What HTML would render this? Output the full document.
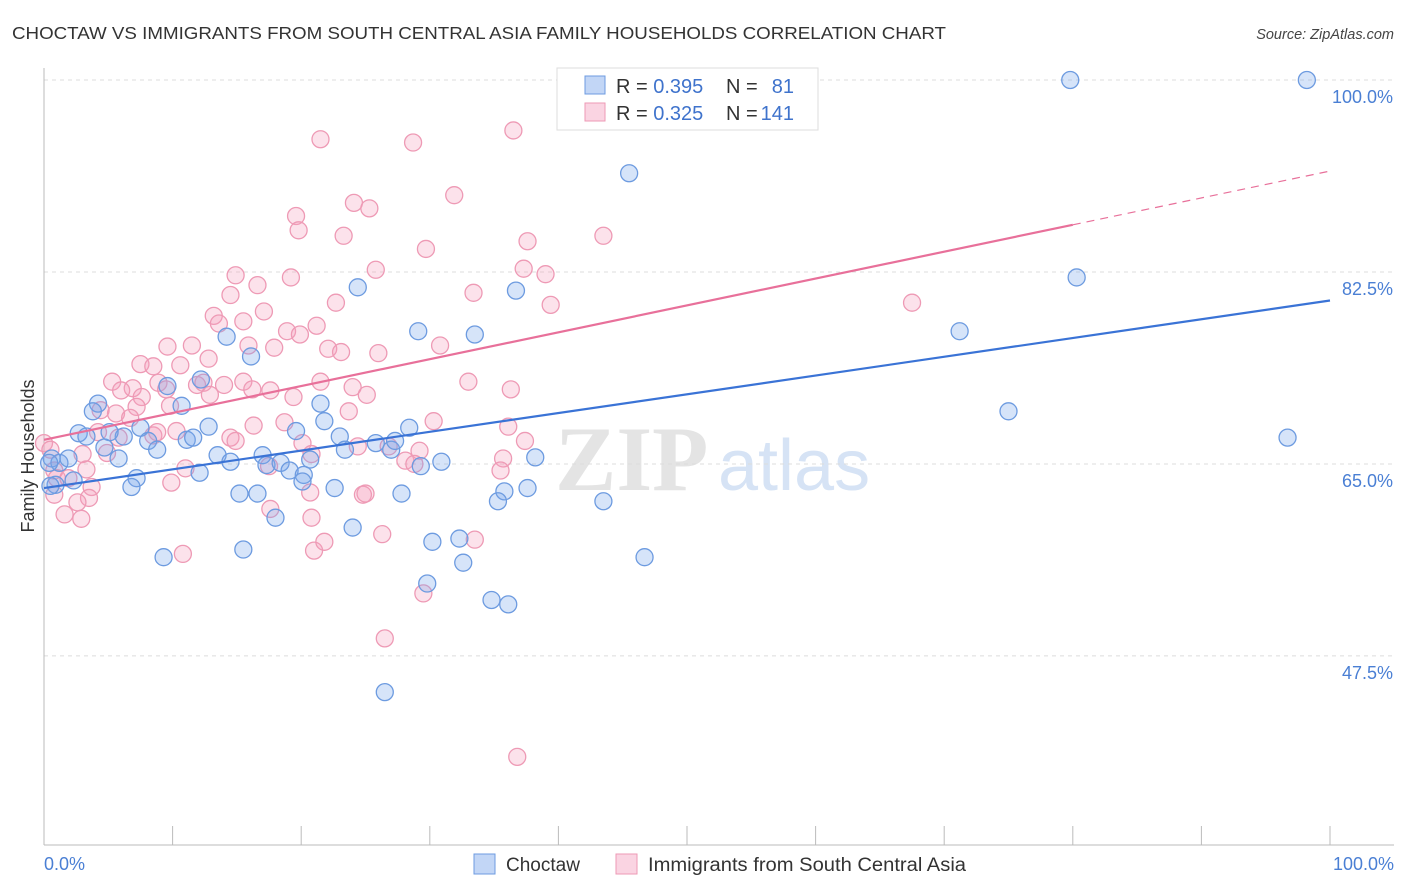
<!DOCTYPE html>
<html><head><meta charset="utf-8"><style>
body{margin:0;background:#fff;font-family:"Liberation Sans",sans-serif;}
svg{display:block}
</style></head><body>
<svg id="chart" width="1406" height="892" xmlns="http://www.w3.org/2000/svg">
<text x="12" y="39" font-size="17.5" fill="#333" textLength="934" lengthAdjust="spacingAndGlyphs">CHOCTAW VS IMMIGRANTS FROM SOUTH CENTRAL ASIA FAMILY HOUSEHOLDS CORRELATION CHART</text>
<text x="1394" y="39" font-size="14.5" fill="#444" font-style="italic" text-anchor="end">Source: ZipAtlas.com</text>
<g>
<text x="555" y="490" font-size="92" fill="#e4e4e4" font-family="Liberation Serif" font-weight="bold">ZIP</text>
<text x="718" y="490" font-size="72" fill="#d6e3f5">atlas</text>
</g>
<g id="grid"></g>
<g id="axes"></g>
<g id="pinkPts"></g>
<g id="bluePts"></g>
<g id="lines"></g>
<g>
<rect x="557" y="68" width="261" height="62" fill="#fff" stroke="#ddd"/>
<rect x="585" y="76" width="20" height="18" fill="rgba(120,165,235,0.45)" stroke="#6d9be0"/>
<rect x="585" y="103" width="20" height="18" fill="rgba(245,160,190,0.45)" stroke="#ee9ab5"/>
<text x="616" y="93" font-size="20" fill="#333">R = <tspan fill="#3f73cc">0.395</tspan></text>
<text x="726" y="93" font-size="20" fill="#333">N = </text><text x="794" y="93" font-size="20" fill="#3f73cc" text-anchor="end">81</text>
<text x="616" y="120" font-size="20" fill="#333">R = <tspan fill="#3f73cc">0.325</tspan></text>
<text x="726" y="120" font-size="20" fill="#333">N = </text><text x="794" y="120" font-size="20" fill="#3f73cc" text-anchor="end">141</text>
</g>
<g>
<rect x="474" y="854" width="21" height="20" fill="rgba(120,165,235,0.45)" stroke="#6d9be0"/>
<text x="506" y="871" font-size="19" fill="#333">Choctaw</text>
<rect x="616" y="854" width="21" height="20" fill="rgba(245,160,190,0.45)" stroke="#ee9ab5"/>
<text x="648" y="871" font-size="19" fill="#333" textLength="318" lengthAdjust="spacingAndGlyphs">Immigrants from South Central Asia</text>
</g>
<text transform="translate(34,456) rotate(-90)" font-size="18" fill="#333" text-anchor="middle">Family Households</text>
<text x="44" y="870" font-size="18" fill="#4a7fd4">0.0%</text>
<text x="1394" y="870" font-size="18" fill="#4a7fd4" text-anchor="end">100.0%</text>
</svg>
<script>
const yTicks=[100,82.5,65,47.5];
const yTickLabels=["100.0%","82.5%","65.0%","47.5%"];
const blueX=[79.8,98.2,45.5,80.3,71.2,75.0,96.7,24.4,36.7,29.1,33.5,14.2,16.1,9.6,12.2,10.7,4.2,3.8,21.5,21.8,12.8,2.7,3.3,6.2,7.5,5.1,8.1,8.8,11.1,11.6,19.6,23.0,23.4,25.8,27.0,27.3,28.4,4.7,5.8,13.5,14.5,17.0,17.3,18.4,20.7,19.1,20.2,20.1,29.3,30.9,38.2,0.6,1.2,1.9,0.9,2.3,7.2,6.8,12.1,15.2,16.6,18.0,22.6,27.8,35.8,35.3,37.6,43.5,24.0,30.2,32.3,32.6,9.3,15.5,46.7,29.8,34.8,36.1,26.5,0.4,0.5];
const blueY=[100,100,91.5,82.0,77.1,69.8,67.4,81.1,80.8,77.1,76.8,76.6,74.8,72.1,72.7,70.3,70.5,69.8,70.5,68.9,68.4,67.8,67.5,67.5,68.3,67.9,67.1,66.3,67.2,67.4,68.0,67.5,66.3,66.9,66.3,67.1,68.3,66.5,65.5,65.8,65.2,65.8,64.9,65.1,65.4,64.4,64.0,63.4,64.8,65.2,65.6,65.5,65.1,65.5,63.1,63.5,63.7,62.9,64.2,62.3,62.3,60.1,62.8,62.3,62.5,61.6,62.8,61.6,59.2,57.9,58.2,56.0,56.5,57.2,56.5,54.1,52.6,52.2,44.2,65.1,63.0];
const pinkX=[21.5,36.5,28.7,31.9,24.1,25.3,19.6,19.8,23.3,43.5,37.6,29.7,25.8,37.3,39.0,14.9,19.2,16.6,33.4,14.5,22.7,39.4,67.5,17.1,13.2,15.5,13.6,21.2,18.9,19.9,9.6,11.5,15.9,17.9,30.8,22.1,23.1,26.0,12.8,7.5,8.5,10.6,5.3,6.9,6.0,8.9,9.5,11.9,12.4,14.0,15.5,16.2,17.6,21.5,24.0,33.0,36.3,25.1,19.4,12.9,7.6,4.4,5.6,7.2,9.8,6.7,23.7,30.3,18.7,16.3,36.1,0,4.2,5.8,8.5,8.8,10.3,14.5,14.9,20.1,24.4,26.8,29.2,37.4,0.5,3.0,4.9,20.8,28.1,28.8,35.7,0.8,3.3,11.0,17.5,35.5,1.0,1.9,9.9,3.7,0.8,3.5,20.7,24.8,25.0,2.6,1.6,2.9,17.6,20.8,26.3,33.5,10.8,21.0,21.8,29.5,26.5,36.8];
const pinkY=[94.6,95.4,94.3,89.5,88.8,88.3,87.6,86.3,85.8,85.8,85.3,84.6,82.7,82.8,82.3,82.2,82.0,81.3,80.6,80.4,79.7,79.5,79.7,78.9,78.5,78.0,77.8,77.6,77.1,76.8,75.7,75.8,75.8,75.6,75.8,75.5,75.2,75.1,74.6,74.1,73.9,74.0,72.5,71.9,71.7,72.4,71.8,72.2,72.4,72.2,72.5,71.8,71.7,72.5,72.0,72.5,71.8,71.3,71.1,71.3,71.1,69.9,69.6,70.2,70.3,69.2,69.8,68.9,68.8,68.5,68.4,66.9,67.9,67.4,67.6,67.9,68.0,67.4,67.1,66.9,66.6,66.6,66.2,67.1,66.3,65.9,66.0,65.9,65.3,65.0,65.5,64.4,64.5,64.6,64.8,64.4,63.7,63.7,63.3,62.9,62.2,61.9,62.4,62.2,62.3,61.5,60.4,60.0,60.9,60.1,58.6,58.1,56.8,57.1,57.9,53.2,49.1,38.3];
const blueLine=[62.8,79.9];
const pinkLine=[67.2,91.7];
const pinkSolidEnd=80;
const sx=v=>44+v*12.86;
const sy=v=>80+(100-v)*10.97;
const NS="http://www.w3.org/2000/svg";
function mk(tag,attrs,parent){const e=document.createElementNS(NS,tag);for(const k in attrs)e.setAttribute(k,attrs[k]);parent.appendChild(e);return e;}
const grid=document.getElementById('grid');
yTicks.forEach((t,i)=>{
 const l=mk('line',{x1:44,x2:1394,y1:sy(t),y2:sy(t),stroke:'#dcdcdc','stroke-dasharray':'4,4'},grid);
 
 
 const tx=mk('text',{x:1393,y:sy(t)+23,'font-size':18,fill:'#4a7fd4','text-anchor':'end'},grid);
 tx.textContent=yTickLabels[i];
 
 
});
const axes=document.getElementById('axes');
mk('line',{x1:44,x2:44,y1:68,y2:845,stroke:'#bbb'},axes);
mk('line',{x1:44,x2:1394,y1:845,y2:845,stroke:'#bbb'},axes);
for(let i=1;i<=10;i++){const t=mk('line',{x1:sx(i*10),x2:sx(i*10),y1:826,y2:845,stroke:'#bbb'},axes);
 
 }
function pts(xs,ys,g,fill,stroke,name){xs.forEach((x,i)=>{const c=mk('circle',{cx:sx(x),cy:sy(ys[i]),r:8.5,fill:fill,stroke:stroke,'stroke-width':1.3},g);
 
 });}
pts(pinkX,pinkY,document.getElementById('pinkPts'),'rgba(245,160,190,0.3)','#ee9ab5','pink-point');
pts(blueX,blueY,document.getElementById('bluePts'),'rgba(120,165,235,0.3)','#6d9be0','blue-point');
const lines=document.getElementById('lines');
const bl=mk('line',{x1:sx(0),y1:sy(blueLine[0]),x2:sx(100),y2:sy(blueLine[1]),stroke:'#3a73d6','stroke-width':2.2},lines);


const pv=x=>pinkLine[0]+(pinkLine[1]-pinkLine[0])*x/100;
const pl=mk('line',{x1:sx(0),y1:sy(pv(0)),x2:sx(pinkSolidEnd),y2:sy(pv(pinkSolidEnd)),stroke:'#e8709a','stroke-width':2.2},lines);


const pd=mk('line',{x1:sx(pinkSolidEnd),y1:sy(pv(pinkSolidEnd)),x2:sx(100),y2:sy(pv(100)),stroke:'#e8709a','stroke-width':1.2,'stroke-dasharray':'8,6'},lines);


</script>
</body></html>
